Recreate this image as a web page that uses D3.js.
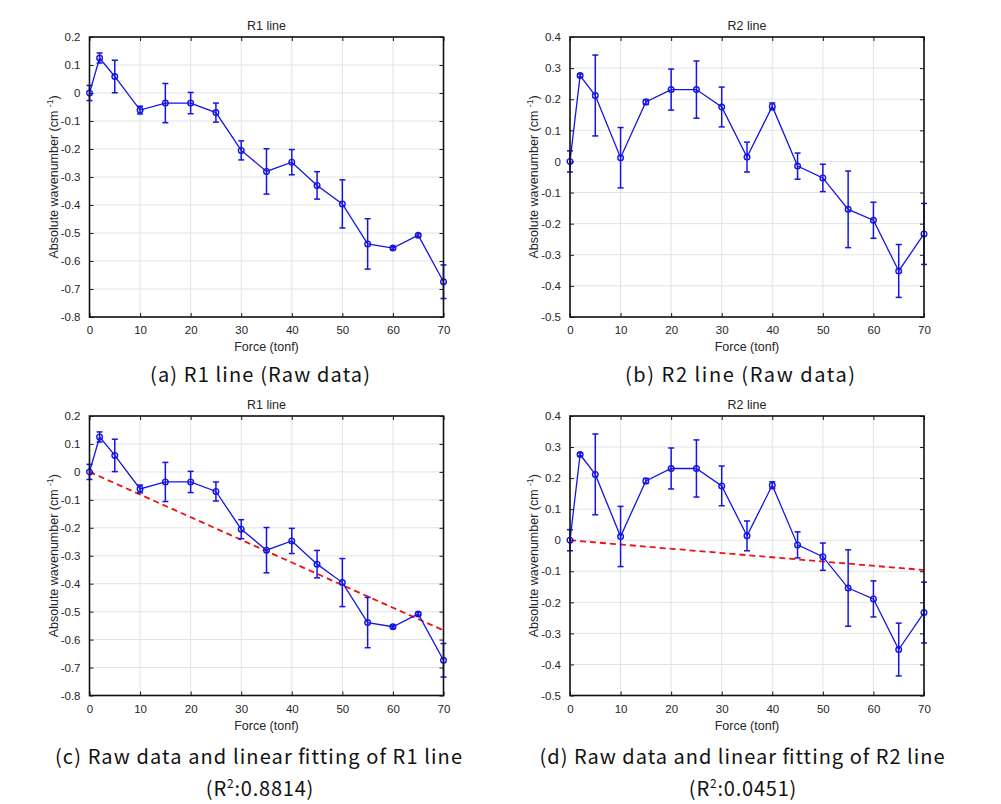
<!DOCTYPE html>
<html>
<head>
<meta charset="utf-8">
<script src="https://cdn.jsdelivr.net/npm/d3@7"></script>
<style>
  html, body { margin: 0; padding: 0; background: #fff; }
  svg { display: block; }
</style>
</head>
<body>
<svg id="chart" width="1001" height="804"></svg>
<script>
// ---- Data ----
const forceTonf = [0, 2, 5, 10, 15, 20, 25, 30, 35, 40, 45, 50, 55, 60, 65, 70];

const r1Mean = [0.000, 0.125, 0.059, -0.061, -0.036, -0.036, -0.070, -0.205, -0.280, -0.247, -0.330, -0.396, -0.539, -0.554, -0.508, -0.674];
const r1Err  = [0.027, 0.018, 0.058, 0.014, 0.070, 0.038, 0.034, 0.034, 0.081, 0.045, 0.049, 0.086, 0.090, 0.005, 0.005, 0.060];

const r2Mean = [0.000, 0.276, 0.212, 0.012, 0.191, 0.231, 0.231, 0.175, 0.014, 0.177, -0.015, -0.053, -0.154, -0.189, -0.352, -0.233];
const r2Err  = [0.034, 0.005, 0.130, 0.097, 0.008, 0.066, 0.092, 0.064, 0.048, 0.011, 0.042, 0.044, 0.123, 0.058, 0.085, 0.098];

// Linear fits: value at force 0 and at force 70
const fitForce = [0, 70];
const r1Fit = [0.000, -0.567];
const r2Fit = [0.000, -0.096];

const xTicks = [0, 10, 20, 30, 40, 50, 60, 70];
const r1Ticks = [0.2, 0.1, 0, -0.1, -0.2, -0.3, -0.4, -0.5, -0.6, -0.7, -0.8];
const r2Ticks = [0.4, 0.3, 0.2, 0.1, 0, -0.1, -0.2, -0.3, -0.4, -0.5];

const panelTitles = ["R1 line", "R2 line"];
const xLabel = "Force (tonf)";
const yLabel = "Absolute wavenumber (cm";
const captions = [
  ["(a) R1 line (Raw data)"],
  ["(b) R2 line (Raw data)"],
  ["(c) Raw data and linear fitting of R1 line", "0.8814"],
  ["(d) Raw data and linear fitting of R2 line", "0.0451"]
];

// ---- Drawing ----
const svg = d3.select("#chart");
const tickFont = "'Liberation Sans', Arial, Helvetica, sans-serif";
const textColor = "#262626";

function fmt(v) {
  if (Math.abs(v) < 1e-9) return "0";
  return d3.format(".1f")(v).replace("−", "-");
}

function drawPanel(opt) {
  const { left, top, width, height, mean, err, ticks, fit, title } = opt;
  const g = svg.append("g").attr("transform", `translate(${left},${top})`);

  const x = d3.scaleLinear().domain([0, 70]).range([0, width]);
  const y = d3.scaleLinear().domain([ticks[ticks.length - 1], ticks[0]]).range([height, 0]);

  // grid
  g.append("g").selectAll("line.gx").data(xTicks).join("line")
    .attr("x1", d => x(d)).attr("x2", d => x(d)).attr("y1", 0).attr("y2", height)
    .attr("stroke", "#e3e3e3").attr("stroke-width", 1);
  g.append("g").selectAll("line.gy").data(ticks).join("line")
    .attr("y1", d => y(d)).attr("y2", d => y(d)).attr("x1", 0).attr("x2", width)
    .attr("stroke", "#e3e3e3").attr("stroke-width", 1);

  // axes with inward ticks
  const tl = 4;
  const axB = g.append("g").attr("transform", `translate(0,${height})`)
    .call(d3.axisBottom(x).tickValues(xTicks).tickSizeInner(-tl).tickSizeOuter(0).tickPadding(9).tickFormat(d3.format("d")));
  const axT = g.append("g")
    .call(d3.axisTop(x).tickValues(xTicks).tickSizeInner(-tl).tickSizeOuter(0).tickFormat(""));
  const axL = g.append("g")
    .call(d3.axisLeft(y).tickValues(ticks).tickSizeInner(-tl).tickSizeOuter(0).tickPadding(9).tickFormat(fmt));
  const axR = g.append("g").attr("transform", `translate(${width},0)`)
    .call(d3.axisRight(y).tickValues(ticks).tickSizeInner(-tl).tickSizeOuter(0).tickFormat(""));
  [axB, axT, axL, axR].forEach(a => {
    a.select(".domain").remove();
    a.selectAll(".tick line").attr("stroke", "#1a1a1a").attr("stroke-width", 1);
    a.selectAll("text").attr("font-family", tickFont).attr("font-size", 11.5).attr("fill", textColor);
  });

  // fit line
  if (fit) {
    const fitData = fitForce.map((f, i) => [f, fit[i]]);
    g.append("path")
      .attr("d", d3.line().x(d => x(d[0])).y(d => y(d[1]))(fitData))
      .attr("fill", "none").attr("stroke", "#ee1111").attr("stroke-width", 1.8)
      .attr("stroke-dasharray", "6,4");
  }

  const pts = forceTonf.map((f, i) => ({ f, m: mean[i], e: err[i] }));
  const blue = "#1414e6";

  // error bars
  const eb = g.append("g").attr("stroke", blue).attr("stroke-width", 1.5);
  eb.selectAll("line.v").data(pts).join("line")
    .attr("x1", d => x(d.f)).attr("x2", d => x(d.f))
    .attr("y1", d => y(d.m - d.e)).attr("y2", d => y(d.m + d.e));
  eb.selectAll("line.c1").data(pts).join("line")
    .attr("x1", d => x(d.f) - 3).attr("x2", d => x(d.f) + 3)
    .attr("y1", d => y(d.m + d.e)).attr("y2", d => y(d.m + d.e));
  eb.selectAll("line.c2").data(pts).join("line")
    .attr("x1", d => x(d.f) - 3).attr("x2", d => x(d.f) + 3)
    .attr("y1", d => y(d.m - d.e)).attr("y2", d => y(d.m - d.e));

  // data line
  g.append("path")
    .attr("d", d3.line().x(d => x(d.f)).y(d => y(d.m))(pts))
    .attr("fill", "none").attr("stroke", blue).attr("stroke-width", 1.3);

  // markers
  g.selectAll("circle.m").data(pts).join("circle")
    .attr("cx", d => x(d.f)).attr("cy", d => y(d.m)).attr("r", 2.8)
    .attr("fill", "none").attr("stroke", blue).attr("stroke-width", 1.4);

  // box
  g.append("rect").attr("x", 0).attr("y", 0).attr("width", width).attr("height", height)
    .attr("fill", "none").attr("stroke", "#111").attr("stroke-width", 1.6);

  // title
  g.append("text").attr("x", width / 2).attr("y", -7).attr("text-anchor", "middle")
    .attr("font-family", tickFont).attr("font-size", 12.5).attr("fill", textColor).text(title);

  // x label
  g.append("text").attr("x", width / 2).attr("y", height + 34).attr("text-anchor", "middle")
    .attr("font-family", tickFont).attr("font-size", 12.5).attr("fill", textColor).text(xLabel);

  // y label
  const yl = g.append("text")
    .attr("transform", `translate(-32,${height / 2}) rotate(-90)`)
    .attr("text-anchor", "middle")
    .attr("font-family", tickFont).attr("font-size", 12.5).attr("fill", textColor);
  yl.append("tspan").text(yLabel + " ");
  yl.append("tspan").attr("font-size", 8.5).attr("dy", -5).text("-1");
  yl.append("tspan").attr("dy", 5).text(")");
}

const pw = 354, ph = 280;
drawPanel({ left: 89.5, top: 37, width: pw, height: ph, mean: r1Mean, err: r1Err, ticks: r1Ticks, fit: null, title: panelTitles[0] });
drawPanel({ left: 570, top: 37, width: pw, height: ph, mean: r2Mean, err: r2Err, ticks: r2Ticks, fit: null, title: panelTitles[1] });
drawPanel({ left: 89.5, top: 416, width: pw, height: 279.5, mean: r1Mean, err: r1Err, ticks: r1Ticks, fit: r1Fit, title: panelTitles[0] });
drawPanel({ left: 570, top: 416, width: pw, height: 279.5, mean: r2Mean, err: r2Err, ticks: r2Ticks, fit: r2Fit, title: panelTitles[1] });

// captions
const capFont = "'Noto Sans CJK KR', 'Noto Sans', sans-serif";
function caption(cx, cy, txt, len) {
  svg.append("text").attr("x", cx).attr("y", cy).attr("text-anchor", "middle")
    .attr("font-family", capFont).attr("font-size", 20).attr("fill", "#111")
    .attr("textLength", len).attr("lengthAdjust", "spacing")
    .text(txt);
}
caption(260, 382, captions[0][0], 220);
caption(740, 382, captions[1][0], 230);
caption(258.5, 764, captions[2][0], 407);
caption(742, 764, captions[3][0], 405);

function r2Caption(cx, cy, val) {
  const t = svg.append("text").attr("x", cx).attr("y", cy).attr("text-anchor", "middle")
    .attr("font-family", capFont).attr("font-size", 20).attr("fill", "#111")
    .attr("letter-spacing", 0.8);
  t.append("tspan").text("(R");
  t.append("tspan").attr("font-size", 12).attr("dy", -8).text("2");
  t.append("tspan").attr("dy", 8).text(":" + val + ")");
}
r2Caption(260, 796, captions[2][1]);
r2Caption(743, 796, captions[3][1]);
</script>
</body>
</html>
